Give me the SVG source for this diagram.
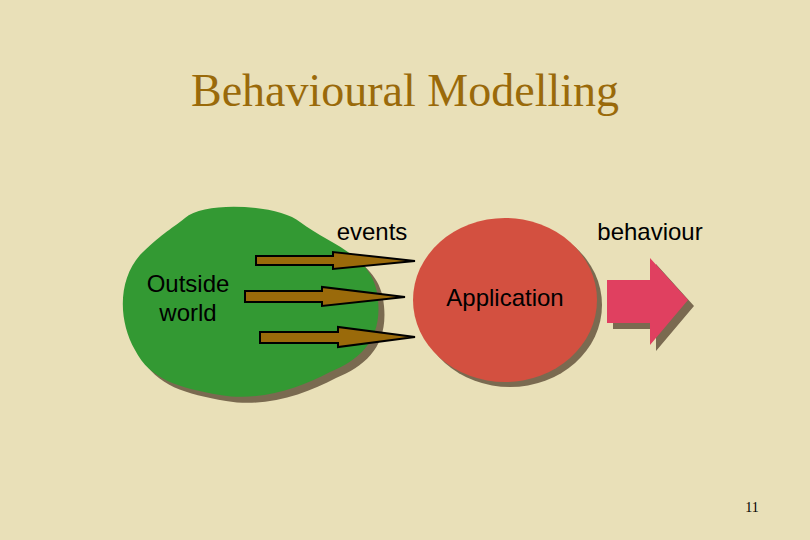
<svg xmlns="http://www.w3.org/2000/svg" width="810" height="540" viewBox="0 0 810 540">
<style>
.lbl{font-family:"Liberation Sans",Arial,sans-serif;font-size:24px;fill:#000}
.ev{fill:#9a6a0a;stroke:#000;stroke-width:2}
.sh{fill:#7a6a50}
</style>
<rect width="810" height="540" fill="#e9e0b8"/>
<text x="405" y="106" text-anchor="middle" font-family="Liberation Serif,serif" font-size="46" fill="#9a6a0a">Behavioural Modelling</text>
<g id="outside">
<path class="sh" transform="translate(6,6)" d="M185,218 C205,200 280,205 300,222 C330,245 375,255 378,300 C382,340 360,360 330,372 C300,388 260,402 220,395 C180,388 150,380 135,350 C118,320 118,280 140,255 C160,235 170,230 185,218 Z"/>
<path fill="#339933" d="M185,218 C205,200 280,205 300,222 C330,245 375,255 378,300 C382,340 360,360 330,372 C300,388 260,402 220,395 C180,388 150,380 135,350 C118,320 118,280 140,255 C160,235 170,230 185,218 Z"/>
<text class="lbl" x="188" y="292" text-anchor="middle">Outside</text>
<text class="lbl" x="188" y="321" text-anchor="middle">world</text>
</g>
<g id="application">
<ellipse class="sh" cx="510" cy="305" rx="92" ry="82"/>
<ellipse fill="#d35040" cx="505" cy="300" rx="92" ry="82"/>
<text class="lbl" x="505" y="306" text-anchor="middle">Application</text>
</g>
<g id="behaviour">
<path class="sh" transform="translate(6,6)" d="M607,280 H650 V258 L688,300 L650,345 V323 H607 Z"/>
<path fill="#e04060" d="M607,280 H650 V258 L688,300 L650,345 V323 H607 Z"/>
<text class="lbl" x="650" y="240" text-anchor="middle">behaviour</text>
</g>
<g id="connectors">
<text class="lbl" x="372" y="240" text-anchor="middle">events</text>
<path class="ev" d="M256,256 H333 V252 L415,261 L333,269 V265 H256 Z"/>
<path class="ev" d="M245,291 H322 V287 L405,297 L322,306 V302 H245 Z"/>
<path class="ev" d="M260,332 H338 V327 L415,337 L338,347 V343 H260 Z"/>
</g>
<text x="752" y="512" text-anchor="middle" font-family="Liberation Serif,serif" font-size="14" fill="#000">11</text>
</svg>
